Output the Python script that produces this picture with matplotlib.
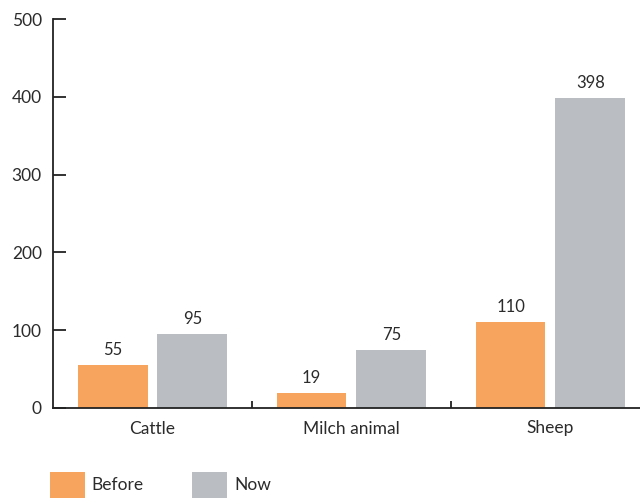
import matplotlib
matplotlib.use("Agg")
import matplotlib.pyplot as plt
import numpy as np

categories = ["Cattle", "Milch animal", "Sheep"]
before = [55, 19, 110]
now = [95, 75, 398]
series_names = ["Before", "Now"]
yticks = [0, 100, 200, 300, 400, 500]

plt.rcParams['font.family'] = ['Lato', 'DejaVu Sans']

orange = "#F6A45E"
grey = "#BABDC1"
txt = "#2b2b2b"

fig = plt.figure(figsize=(6.4, 5.01), dpi=100)
ax = fig.add_axes([53/640, 93/501, 1 - 53/640, (408-19)/501])

x = np.arange(len(categories))
w = 0.35
off = 0.2
b1 = ax.bar(x - off, before, w, color=orange, label=series_names[0])
b2 = ax.bar(x + off, now, w, color=grey, label=series_names[1])

for bars, vals in ((b1, before), (b2, now)):
    for r, v in zip(bars, vals):
        ax.annotate(str(v), (r.get_x() + r.get_width()/2, r.get_height()),
                    xytext=(0, 5), textcoords="offset points",
                    ha="center", va="bottom", fontsize=12, color=txt)

ax.set_xlim(-0.5, 2.45)
ax.set_ylim(0, 500)
ax.set_yticks(yticks)
ax.set_yticklabels([str(t) for t in yticks])
ax.set_xticks(x)
ax.set_xticklabels(categories)
ax.set_xticks([0.5, 1.5], minor=True)

for s in ("top", "right"):
    ax.spines[s].set_visible(False)
for s in ("left", "bottom"):
    ax.spines[s].set_linewidth(1.3)
    ax.spines[s].set_color("#222222")

ax.tick_params(axis="y", direction="in", length=9.5, width=1.3, pad=8,
               labelsize=12.5, labelcolor=txt, color="#222222")
ax.tick_params(axis="x", which="major", length=0, pad=9, labelsize=12.5, labelcolor=txt)
ax.tick_params(axis="x", which="minor", direction="in", length=5, width=1.3, color="#222222")

fig.legend(handles=[b1, b2], labels=series_names, loc="upper left",
           bbox_to_anchor=(43/640, 1 - 465/501), ncol=2, frameon=False,
           fontsize=12.5, handlelength=2.0, handleheight=1.9, columnspacing=2.8,
           handletextpad=0.4, labelcolor=txt, borderaxespad=0)

fig.savefig("out.png", dpi=100)
